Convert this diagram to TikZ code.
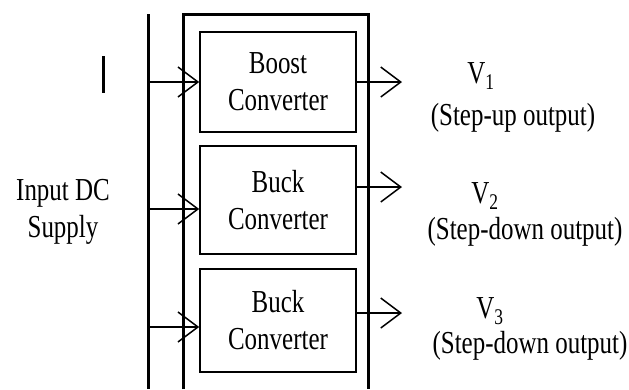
\documentclass[tikz,border=0pt]{standalone}
\usepackage{fontspec}
\setmainfont{Liberation Serif}[FakeStretch=0.78]
\usetikzlibrary{arrows.meta}

\begin{document}
\begin{tikzpicture}[x=1pt,y=-1pt,
  txt/.style={font=\fontsize{32}{37}\selectfont},
  conv/.style={draw, line width=1.6pt, align=center, inner sep=0pt, txt},
  lbl/.style={inner sep=0pt, anchor=base, txt},
  heavy/.style={line width=3pt},
  flow/.style={line width=1.5pt, -{Straight Barb[length=20pt,width=30pt]}}]
\useasboundingbox (0,0) rectangle (629,389);

% converter blocks
\node[conv, minimum width=156pt, minimum height=100pt] (boost) at (278,82) {Boost\\Converter};
\node[conv, minimum width=156pt, minimum height=108pt] (buckA) at (278,200) {Buck\\Converter};
\node[conv, minimum width=156pt, minimum height=103pt] (buckB) at (278,320.5) {Buck\\Converter};

% supply bus and enclosing frame (open at the bottom)
\coordinate (busT) at (148,14);
\coordinate (busB) at (148,389);
\draw[heavy] (busT) -- (busB);
\coordinate (frBL) at (183,389);
\coordinate (frTL) at (183,14);
\coordinate (frTR) at (368,14);
\coordinate (frBR) at (368,389);
\draw[heavy] (frBL) -- (frTL) -- (frTR) -- (frBR);

% short marker bar
\coordinate (barT) at (103,56);
\coordinate (barB) at (103,93);
\draw[heavy] (barT) -- (barB);

% inputs from the bus
\coordinate (in1) at (148,82);
\coordinate (in2) at (148,209);
\coordinate (in3) at (148,327);
\draw[flow] (in1) -- (in1 -| boost.west);
\draw[flow] (in2) -- (in2 -| buckA.west);
\draw[flow] (in3) -- (in3 -| buckB.west);

% outputs
\coordinate (out1) at (402,82);
\coordinate (out2) at (402,187);
\coordinate (out3) at (402,313);
\draw[flow] (out1 -| boost.east) -- (out1);
\draw[flow] (out2 -| buckA.east) -- (out2);
\draw[flow] (out3 -| buckB.east) -- (out3);

% labels
\node[lbl] (inA) at (63,200) {Input DC};
\node[lbl] (inB) at (63,237) {Supply};
\node[lbl] (v1) at (481,83) {V\textsubscript{1}};
\node[lbl] (d1) at (513,125) {(Step-up output)};
\node[lbl] (v2) at (485,203) {V\textsubscript{2}};
\node[lbl] (d2) at (525,239) {(Step-down output)};
\node[lbl] (v3) at (490,318) {V\textsubscript{3}};
\node[lbl] (d3) at (530,353) {(Step-down output)};
\end{tikzpicture}
\end{document}
